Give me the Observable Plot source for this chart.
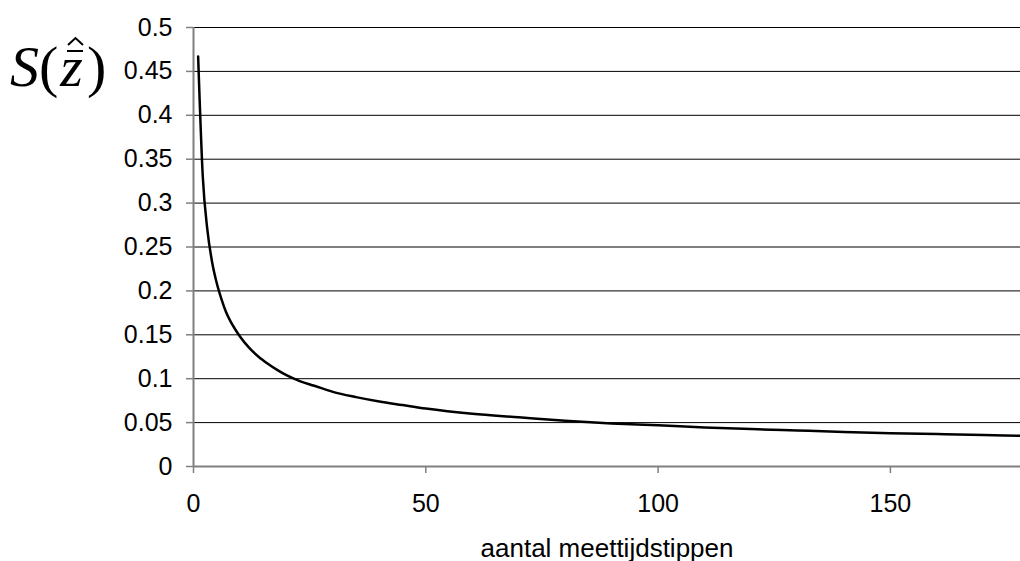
<!DOCTYPE html>
<html>
<head>
<meta charset="utf-8">
<script src="https://cdn.jsdelivr.net/npm/d3@7"></script>
<script src="https://cdn.jsdelivr.net/npm/@observablehq/plot@0.6"></script>
<style>
  html, body { margin: 0; padding: 0; background: #fff; }
  #wrap { position: relative; width: 1020px; height: 561px; overflow: hidden; }
  #wrap svg.plot text { font-family: "Liberation Sans", Arial, sans-serif; fill: #000; }
  #ylab { position: absolute; left: 0; top: 0; }
  #ylab text { font-family: "Liberation Serif", "Times New Roman", serif; font-size: 58px; fill: #000; }
</style>
</head>
<body>
<div id="wrap">
  <svg id="ylab" width="120" height="110" xmlns="http://www.w3.org/2000/svg">
    <text x="10" y="86"><tspan font-style="italic">S</tspan><tspan>(</tspan><tspan font-style="italic" dx="2">z</tspan><tspan dx="4">)</tspan></text>
    <line x1="67" x2="83" y1="51" y2="51" stroke="#000" stroke-width="2"/>
    <path d="M68,45 L75.5,38 L83,45" fill="none" stroke="#000" stroke-width="2"/>
  </svg>
</div>
<script>
const nPoints = [1,2,3,4,5,6,7,8,9,10,12,14,16,18,20,23,26,30,35,40,45,50,60,70,80,90,100,110,120,130,140,150,160,170,178];
const sValues = [0.467,0.330,0.269,0.233,0.209,0.191,0.176,0.165,0.156,0.148,0.135,0.125,0.117,0.110,0.104,0.097,0.092,0.085,0.079,0.074,0.070,0.066,0.060,0.056,0.052,0.049,0.047,0.0445,0.0426,0.041,0.0394,0.038,0.0369,0.0358,0.035];
const xTicks = [0, 50, 100, 150];
const yTicks = [0, 0.05, 0.1, 0.15, 0.2, 0.25, 0.3, 0.35, 0.4, 0.45, 0.5];
const xTitle = "aantal meettijdstippen";

const data = nPoints.map((n, i) => ({n, s: sValues[i]}));
const gridTicks = yTicks.filter(d => d > 0);

const chart = Plot.plot({
  width: 1020,
  height: 561,
  marginLeft: 193,
  marginRight: 0,
  marginTop: 27,
  marginBottom: 95,
  className: "plot",
  style: { fontFamily: "'Liberation Sans', Arial, sans-serif", fontSize: "25px", color: "#000", background: "transparent", overflow: "visible" },
  x: { domain: [0, 178] },
  y: { domain: [0, 0.5] },
  marks: [
    Plot.ruleY(gridTicks, { stroke: "#000", strokeWidth: 1 }),
    Plot.axisY({ ticks: yTicks, tickSize: 7, tickPadding: 14, tickFormat: d => String(+d.toFixed(2)), label: null, stroke: "#808080", strokeWidth: 1.5, fontSize: 25 }),
    Plot.axisX({ ticks: xTicks, tickSize: 7, tickPadding: 21, tickFormat: d => String(d), label: null, stroke: "#808080", strokeWidth: 1.5, fontSize: 25 }),
    Plot.axisX({ ticks: [], label: xTitle, labelAnchor: "center", labelArrow: "none", labelOffset: 90, fontSize: 26, tickSize: 0 }),
    Plot.ruleX([0], { stroke: "#808080", strokeWidth: 2 }),
    Plot.ruleY([0], { stroke: "#808080", strokeWidth: 2 }),
    Plot.line(data, { x: "n", y: "s", stroke: "#000", strokeWidth: 2.5, curve: "monotone-x" })
  ]
});
chart.classList.add("plot");
document.getElementById("wrap").prepend(chart);
chart.style.position = "absolute";
chart.style.left = "0";
chart.style.top = "0";
</script>
</body>
</html>
